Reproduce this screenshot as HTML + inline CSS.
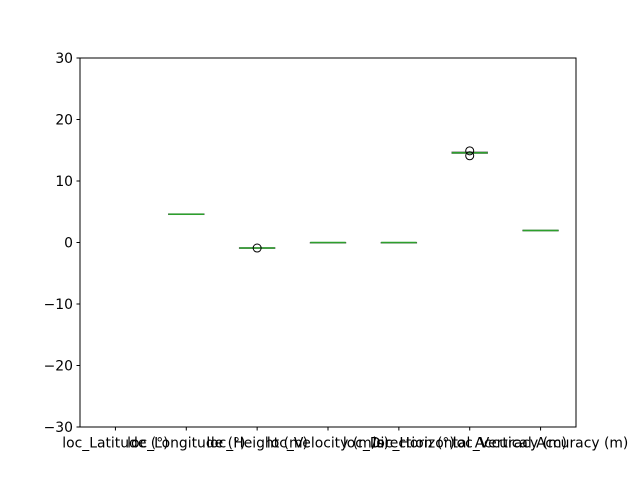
<!DOCTYPE html>
<html><head><meta charset="utf-8"><style>body{margin:0;background:#fff}svg{display:block;font-family:"DejaVu Sans","Liberation Sans",sans-serif}</style></head>
<body>
<svg id="chart" width="640" height="480">
<rect x="0" y="0" width="640" height="480" fill="#fff"/>
<g id="marks"></g>
<rect x="80" y="58" width="496" height="369" fill="none" stroke="#000" stroke-width="1"/>
<g id="yticks"></g>
<g id="xticks"></g>
</svg>
<script>
const categories=["loc_Latitude (°)","loc_Longitude (°)","loc_Height (m)","loc_Velocity (m/s)","loc_Direction (°)","loc_Horizontal Accuracy (m)","loc_Vertical Accuracy (m)"];
const medians=[50.8,4.6,-0.9,0,0,14.6,1.95];
const q1=[50.8,4.55,-0.95,0,0,14.5,1.9];
const q3=[50.8,4.65,-0.85,0,0,14.7,2.0];
const outliers=[[],[],[-0.9],[],[],[14.9,14.1],[]];
const yTicks=[-30,-20,-10,0,10,20,30];
const yTickLabels=["−30","−20","−10","0","10","20","30"];
const NS="http://www.w3.org/2000/svg";
const L=80,R=576,T=58,B=427;
const x=i=>L+(i+1-0.5)/7*(R-L);
const y=v=>B-(v+30)/60*(B-T);
function mk(t,a,p){const e=document.createElementNS(NS,t);for(const k in a)e.setAttribute(k,a[k]);p.appendChild(e);return e;}
const marks=document.getElementById('marks'),yt=document.getElementById('yticks'),xt=document.getElementById('xticks');
const clip=mk('clipPath',{id:'c'},marks);mk('rect',{x:L,y:T,width:R-L,height:B-T},clip);
const g=mk('g',{'clip-path':'url(#c)'},marks);
const hw=0.25/7*(R-L);
categories.forEach((c,i)=>{
  const cx=x(i);
  const b=mk('rect',{x:cx-hw,y:y(q3[i]),width:2*hw,height:Math.max(0.5,y(q1[i])-y(q3[i])),fill:'none',stroke:'#555','stroke-width':1},g);
  
  
  const m=mk('line',{x1:cx-hw,x2:cx+hw,y1:y(medians[i]),y2:y(medians[i]),stroke:'#2ca02c','stroke-width':1.5},g);
  
  
  outliers[i].forEach(v=>{
    const o=mk('circle',{cx:cx,cy:y(v),r:4,fill:'none',stroke:'#000','stroke-width':1},g);
    
    
  });
  mk('line',{x1:cx,x2:cx,y1:B,y2:B+3.5,stroke:'#000'},xt);
  const t=mk('text',{x:cx,y:B+20.5,'text-anchor':'middle','font-size':'13.9'},xt);
  t.textContent=c;
  
  
});
yTicks.forEach((v,i)=>{
  mk('line',{x1:L-3.5,x2:L,y1:y(v),y2:y(v),stroke:'#000'},yt);
  const t=mk('text',{x:L-7,y:y(v)+4.8,'text-anchor':'end','font-size':'13.9'},yt);
  t.textContent=yTickLabels[i];
  
  
});
</script>
</body></html>
